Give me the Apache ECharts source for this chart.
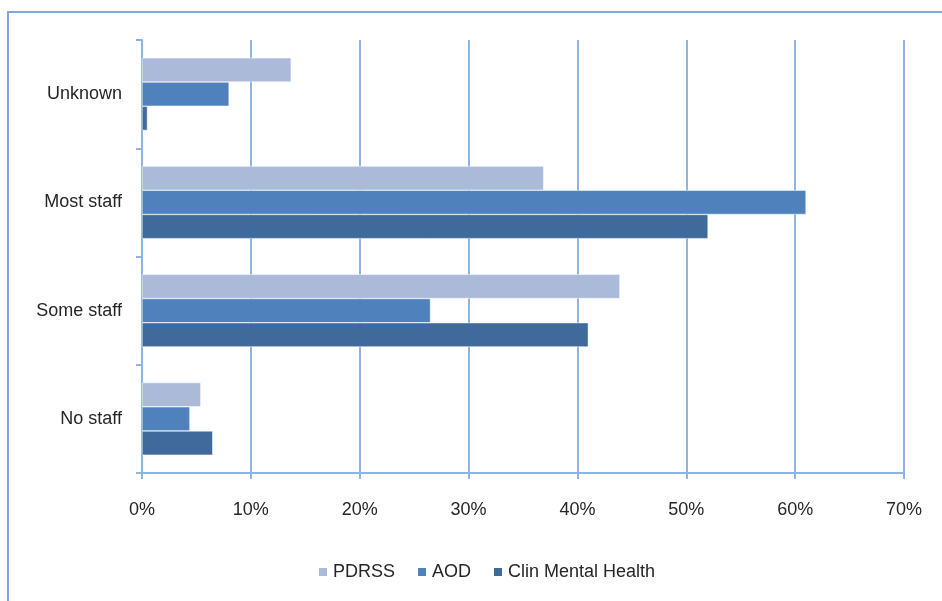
<!DOCTYPE html>
<html>
<head>
<meta charset="utf-8">
<script src="https://cdn.jsdelivr.net/npm/echarts@6/dist/echarts.min.js"></script>
<style>
  html, body { margin: 0; padding: 0; background: #fff; }
  #chart { width: 942px; height: 601px; }
</style>
</head>
<body>
<div id="chart"></div>
<script>
const categories = ['No staff', 'Some staff', 'Most staff', 'Unknown']
const pdrss = [5.4, 43.9, 36.9, 13.7]
const aod = [4.4, 26.5, 61.0, 8.0]
const clinMentalHealth = [6.5, 41.0, 52.0, 0.5]
const xTicks = [0, 10, 20, 30, 40, 50, 60, 70]

const font = '"Liberation Sans", Arial, sans-serif'
const gridBlue = '#8EB4E3'

const chart = echarts.init(document.getElementById('chart'))

function barSeries(name, data, color) {
  return {
    name,
    type: 'bar',
    data,
    barGap: '0%',
    barCategoryGap: '33%',
    itemStyle: { color, borderColor: '#fff', borderWidth: 0.5 },
  }
}

chart.setOption({
  animation: false,
  textStyle: { fontFamily: font },
  graphic: [{
    type: 'rect',
    shape: { x: 8, y: 12, width: 960, height: 620 },
    style: { fill: 'none', stroke: '#7FA7D9', lineWidth: 2 },
    silent: true,
  }],
  grid: { left: 142, right: 38, top: 40, bottom: 128 },
  legend: {
    top: 558,
    left: 312,
    itemWidth: 10,
    itemHeight: 10,
    itemGap: 21,
    icon: 'rect',
    textStyle: { fontSize: 18, color: '#262626', fontFamily: font },
    data: ['PDRSS', 'AOD', 'Clin Mental Health'],
  },
  xAxis: {
    type: 'value',
    min: xTicks[0],
    max: xTicks[xTicks.length - 1],
    interval: 10,
    axisLine: { show: true, lineStyle: { color: gridBlue, width: 2 } },
    axisTick: { show: true, length: 6, lineStyle: { color: gridBlue, width: 2 } },
    axisLabel: {
      formatter: v => v + '%',
      fontSize: 18,
      color: '#262626',
      margin: 28,
    },
    splitLine: { show: true, lineStyle: { color: gridBlue, width: 2 } },
  },
  yAxis: {
    type: 'category',
    data: categories,
    axisLine: { show: true, onZero: false, lineStyle: { color: gridBlue, width: 2 } },
    axisTick: { show: true, length: 6, lineStyle: { color: gridBlue, width: 2 } },
    axisLabel: { fontSize: 18, color: '#262626', margin: 20 },
  },
  series: [
    barSeries('PDRSS', pdrss, '#AABAD8'),
    barSeries('AOD', aod, '#4F81BD'),
    barSeries('Clin Mental Health', clinMentalHealth, '#3F6A9B'),
  ],
})
</script>
</body>
</html>
